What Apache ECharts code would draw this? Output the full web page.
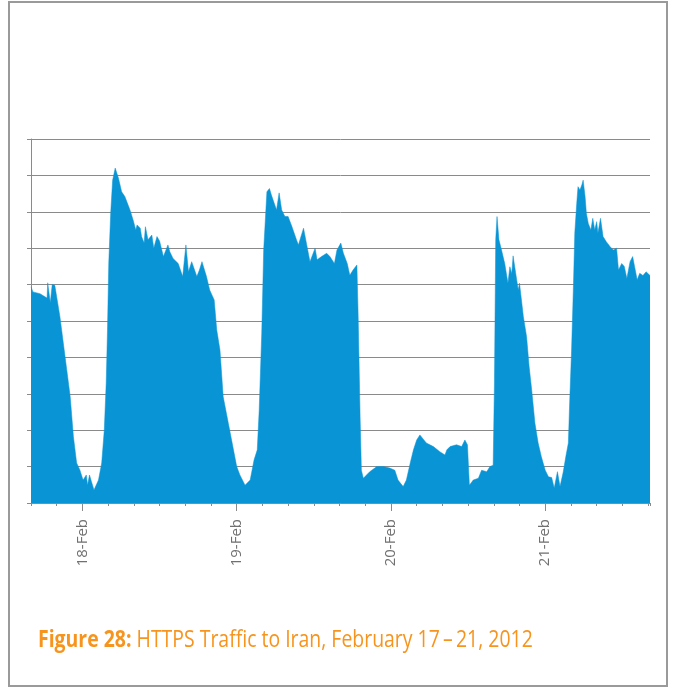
<!DOCTYPE html>
<html>
<head>
<meta charset="utf-8">
<script src="https://cdn.jsdelivr.net/npm/echarts@6/dist/echarts.min.js"></script>
<style>
  html, body { margin: 0; padding: 0; background: #fff; }
  #chart { width: 673px; height: 688px; }
</style>
</head>
<body>
<div id="chart"></div>
<script>
// hours counted from 17-Feb 00:00
var hours = [
  16.0, 16.3, 17.4, 18.5, 18.6, 19.0, 19.3, 19.7, 20.5, 21.3, 22.1, 22.6, 23.1, 23.6, 24.1, 24.6, 24.8, 25.1, 25.4, 25.8,
  26.5, 27.0, 27.4, 27.7, 27.9, 28.1, 28.4, 28.7, 29.1, 29.3, 29.6, 30.1, 30.6, 30.9, 31.4, 31.9, 32.3, 32.5, 33.0, 33.2,
  33.6, 33.8, 34.2, 34.8, 35.1, 35.6, 36.0, 36.6, 37.3, 37.6, 38.1, 38.9, 39.6, 40.1, 40.5, 41.0, 41.8, 42.2, 42.6, 43.3,
  43.8, 44.5, 44.9, 45.4, 45.9, 46.7, 47.5, 48.0, 48.5, 49.3, 50.1, 50.7, 51.2, 51.5, 51.9, 52.2, 52.7, 53.1, 53.4, 54.2,
  54.6, 55.0, 55.5, 56.0, 56.6, 57.3, 57.6, 58.4, 58.9, 59.4, 60.2, 60.5, 61.2, 62.0, 62.5, 63.2, 63.6, 64.2, 64.6, 65.2,
  65.6, 66.1, 66.7, 66.9, 67.2, 67.4, 67.7, 68.7, 69.8, 70.8, 71.8, 72.6, 73.1, 73.9, 74.4, 75.0, 75.5, 76.0, 76.5, 77.5,
  78.6, 79.6, 80.4, 80.7, 81.2, 82.2, 83.0, 83.5, 83.9, 84.2, 84.8, 85.6, 86.1, 86.9, 87.4, 87.9, 88.1, 88.3, 88.5, 88.8,
  89.2, 89.7, 90.2, 90.5, 90.8, 91.0, 91.4, 91.8, 92.0, 92.6, 93.1, 93.5, 93.9, 94.4, 94.9, 95.4, 96.0, 96.5, 97.0, 97.4,
  97.9, 98.3, 98.8, 99.2, 99.6, 99.8, 100.1, 100.4, 100.6, 100.9, 101.1, 101.4, 101.7, 101.9, 102.2, 102.4, 102.7, 103.1, 103.4, 103.7,
  104.0, 104.2, 104.6, 105.0, 105.5, 106.1, 106.6, 107.1, 107.4, 107.9, 108.3, 108.7, 109.2, 109.6, 109.9, 110.3, 110.7, 111.2, 111.7, 112.3
];
var traffic = [
  5.94, 5.80, 5.75, 5.63, 6.05, 5.50, 6.00, 5.98, 5.12, 4.02, 2.92, 1.82, 1.10, 0.91, 0.63, 0.77, 0.49, 0.77, 0.59, 0.36,
  0.63, 1.10, 2.00, 3.30, 4.75, 6.60, 7.97, 8.87, 9.20, 9.24, 8.93, 8.55, 8.42, 8.28, 8.05, 7.77, 7.50, 7.64, 7.55, 7.32,
  7.14, 7.59, 7.23, 7.36, 7.00, 7.32, 7.20, 6.77, 7.09, 6.90, 6.72, 6.58, 6.22, 7.09, 6.35, 6.63, 6.22, 6.40, 6.63, 6.22,
  5.85, 5.58, 4.75, 4.20, 2.92, 2.19, 1.46, 1.00, 0.77, 0.49, 0.63, 1.18, 1.46, 2.55, 4.67, 6.95, 8.55, 8.64, 8.46, 8.05,
  8.52, 8.05, 7.87, 7.87, 7.59, 7.23, 7.09, 7.55, 7.09, 6.63, 7.00, 6.68, 6.77, 6.86, 6.77, 6.58, 6.95, 7.14, 6.86, 6.58,
  6.26, 6.40, 6.54, 5.12, 2.37, 0.90, 0.68, 0.86, 1.00, 1.00, 0.96, 0.90, 0.63, 0.45, 0.63, 1.10, 1.46, 1.73, 1.87, 1.65,
  1.55, 1.41, 1.32, 1.46, 1.55, 1.60, 1.55, 1.73, 1.60, 0.49, 0.63, 0.68, 0.90, 0.86, 1.00, 1.04, 3.30, 7.23, 7.87, 7.23,
  6.95, 6.58, 6.04, 6.49, 6.30, 6.79, 6.32, 5.85, 6.04, 5.12, 4.57, 3.74, 3.10, 2.19, 1.65, 1.27, 0.90, 0.72, 0.70, 0.41,
  0.86, 0.45, 0.85, 1.27, 1.65, 2.75, 4.20, 6.04, 7.42, 8.23, 8.69, 8.60, 8.74, 8.87, 8.42, 7.96, 7.68, 7.50, 7.82, 7.50,
  7.73, 7.42, 7.82, 7.32, 7.18, 7.04, 6.95, 7.00, 6.40, 6.58, 6.50, 6.17, 6.63, 6.77, 6.50, 6.13, 6.31, 6.25, 6.35, 6.25
];
var dayTicks = [24, 48, 72, 96];
var dayLabels = ['18-Feb', '19-Feb', '20-Feb', '21-Feb'];

var myChart = echarts.init(document.getElementById('chart'));

var points = [];
for (var i = 0; i < hours.length; i++) {
    points.push([hours[i], traffic[i]]);
}

var option = {
    backgroundColor: '#fff',
    animation: false,
    grid: {
        left: 31,
        right: 23,
        top: 139,
        bottom: 185
    },
    xAxis: [
        {
            type: 'value',
            min: 16,
            max: 112.3,
            interval: 4,
            axisLine: { show: true, lineStyle: { color: '#8a8a8a', width: 1 } },
            axisTick: { show: true, length: 3, lineStyle: { color: '#8a8a8a' } },
            axisLabel: { show: false },
            splitLine: { show: false }
        },
        {
            type: 'value',
            min: 16,
            max: 112.3,
            position: 'bottom',
            axisLine: { show: false },
            axisTick: {
                show: true,
                length: 8,
                customValues: dayTicks,
                lineStyle: { color: '#8a8a8a' }
            },
            axisLabel: {
                show: true,
                customValues: dayTicks,
                rotate: 90,
                margin: 16,
                color: '#707070',
                fontFamily: 'Open Sans',
                fontSize: 15,
                formatter: function (v) {
                    return dayLabels[dayTicks.indexOf(v)];
                }
            },
            splitLine: { show: false }
        }
    ],
    yAxis: {
        type: 'value',
        min: 0,
        max: 10,
        interval: 1,
        axisLine: { show: true, lineStyle: { color: '#8a8a8a', width: 1 } },
        axisTick: { show: true, length: 4, lineStyle: { color: '#8a8a8a' } },
        axisLabel: { show: false },
        splitLine: { show: true, lineStyle: { color: '#8a8a8a', width: 1 } }
    },
    series: [
        {
            name: 'HTTPS',
            type: 'line',
            xAxisIndex: 0,
            data: points,
            showSymbol: false,
            smooth: false,
            lineStyle: { width: 0.5, color: '#0994d5' },
            areaStyle: { color: '#0994d5', opacity: 1 },
            z: 3
        }
    ],
    graphic: [
        {
            type: 'rect',
            shape: { x: 9, y: 2, width: 658, height: 684 },
            style: { fill: 'none', stroke: '#9a9a9a', lineWidth: 2 },
            silent: true
        },
        {
            type: 'text',
            left: 38,
            top: 628,
            scaleX: 0.81,
            style: {
                text: '{b|Figure 28:} HTTPS Traffic to Iran, February 17\u2009\u2013\u200921, 2012',
                fill: '#f7941d',
                font: '24px "Open Sans"',
                rich: {
                    b: { fill: '#f7941d', fontWeight: 'bold', fontSize: 24, fontFamily: 'Open Sans' }
                }
            }
        }
    ]
};

myChart.setOption(option);
</script>
</body>
</html>
